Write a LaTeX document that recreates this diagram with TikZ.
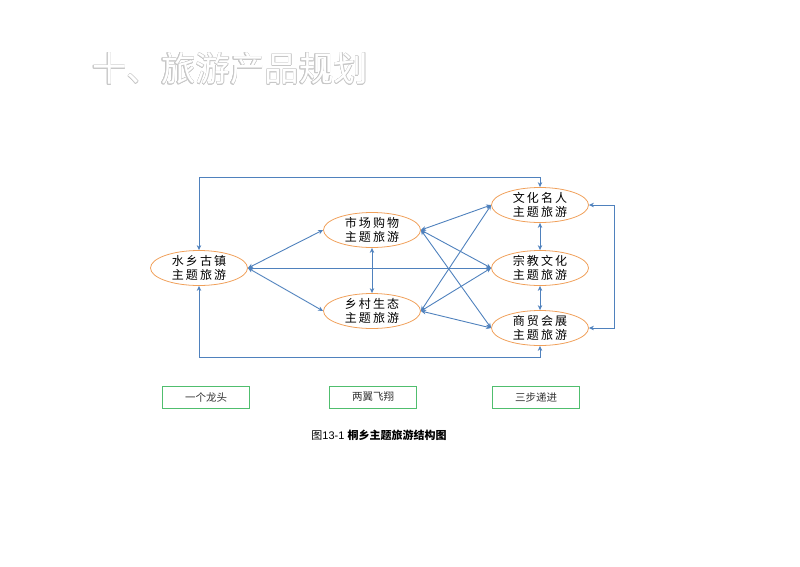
\documentclass[tikz,border=0pt]{standalone}
\usepackage{fontspec}
\usepackage{contour}
\usetikzlibrary{arrows.meta,shapes.geometric}
\setmainfont{Liberation Sans}
\newfontfamily\cjk{Noto Sans CJK SC}
\newfontfamily\cjkwide[LetterSpace=18]{Noto Sans CJK SC}
\definecolor{lineblue}{RGB}{79,129,189}
\definecolor{ovalorange}{RGB}{240,160,90}
\definecolor{boxgreen}{RGB}{80,190,110}
\contourlength{0.5pt}

\begin{document}
\begin{tikzpicture}[x=1pt, y=-1pt, >={Stealth[length=5pt,width=4.5pt]},
	theme/.style={draw=ovalorange, thick, ellipse, minimum width=97pt, minimum height=35pt, inner sep=0pt, align=center, font=\cjkwide\fontsize{12}{13.5}\selectfont},
	link/.style={<->, draw=lineblue, line width=0.9pt},
	tag/.style={draw=boxgreen, line width=1pt, minimum width=87pt, minimum height=22pt, font=\cjk\fontsize{10.5}{12}\selectfont, text=black!80}]
	\useasboundingbox (0,0) rectangle (800,566);
	% title
	\node (title) at (230,69) {\cjk\fontsize{34.5}{38}\selectfont\contour{black!22}{\textcolor{white}{十、旅游产品规划}}};
	% themes
	\node[theme] (sx) at (199,268) {水乡古镇\\主题旅游};
	\node[theme] (sc) at (372,230) {市场购物\\主题旅游};
	\node[theme] (xc) at (372,311) {乡村生态\\主题旅游};
	\node[theme] (wh) at (540,205) {文化名人\\主题旅游};
	\node[theme] (zj) at (540,268) {宗教文化\\主题旅游};
	\node[theme] (sm) at (540,328) {商贸会展\\主题旅游};
	% links
	\foreach \a/\b in {sx/sc, sx/xc, sx/zj, sc/wh, sc/zj, sc/sm, xc/wh, xc/zj, xc/sm} {\draw[link] (\a.east) -- (\b.west);}
	\foreach \a/\b in {sc/xc, wh/zj, zj/sm} {\draw[link] (\a.south) -- (\b.north);}
	\draw[link] (sx.north) -- ++(0,-73) -| (wh.north);
	\draw[link] (sx.south) -- ++(0,72) -| (sm.south);
	\draw[link] (wh.east) -- ++(26,0) |- (sm.east);
	% tags
	\node[tag] (t1) at (206,397) {一个龙头};
	\node[tag] (t2) at (373,397) {两翼飞翔};
	\node[tag] (t3) at (536,397) {三步递进};
	\node (cap) at (379,435) {\fontsize{11}{12}\selectfont {\cjk 图}13-1 \textbf{\cjk 桐乡主题旅游结构图}};
\end{tikzpicture}
\end{document}
